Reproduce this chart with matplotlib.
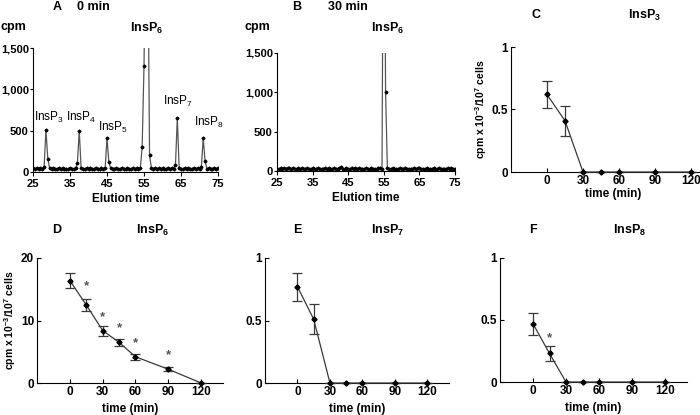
import matplotlib
matplotlib.use("Agg")
import matplotlib.pyplot as plt

plt.rcParams["font.family"] = ["Liberation Sans", "DejaVu Sans"]
plt.rcParams["font.weight"] = "bold"
plt.rcParams["mathtext.default"] = "regular"
plt.rcParams["axes.linewidth"] = 0.8

W, H = 700, 415

# elution profiles (fractions every 0.5 min)
elution_time = [
    25.0, 25.5, 26.0, 26.5, 27.0, 27.5, 28.0, 28.5, 29.0, 29.5,
    30.0, 30.5, 31.0, 31.5, 32.0, 32.5, 33.0, 33.5, 34.0, 34.5,
    35.0, 35.5, 36.0, 36.5, 37.0, 37.5, 38.0, 38.5, 39.0, 39.5,
    40.0, 40.5, 41.0, 41.5, 42.0, 42.5, 43.0, 43.5, 44.0, 44.5,
    45.0, 45.5, 46.0, 46.5, 47.0, 47.5, 48.0, 48.5, 49.0, 49.5,
    50.0, 50.5, 51.0, 51.5, 52.0, 52.5, 53.0, 53.5, 54.0, 54.5,
    55.0, 55.5, 56.0, 56.5, 57.0, 57.5, 58.0, 58.5, 59.0, 59.5,
    60.0, 60.5, 61.0, 61.5, 62.0, 62.5, 63.0, 63.5, 64.0, 64.5,
    65.0, 65.5, 66.0, 66.5, 67.0, 67.5, 68.0, 68.5, 69.0, 69.5,
    70.0, 70.5, 71.0, 71.5, 72.0, 72.5, 73.0, 73.5, 74.0, 74.5,
    75.0,
]
cpm_0min = [
    45, 40, 50, 42, 45, 38, 60, 510, 160, 45,
    40, 48, 42, 38, 45, 40, 44, 38, 42, 40,
    45, 38, 42, 45, 110, 500, 50, 42, 38, 44,
    40, 46, 38, 42, 45, 40, 38, 44, 42, 45,
    410, 120, 45, 40, 38, 46, 42, 40, 44, 38,
    42, 45, 40, 38, 44, 42, 46, 40, 45, 300,
    1280, 3000, 3000, 200, 50, 42, 45, 38, 44, 40,
    46, 42, 38, 45, 40, 44, 42, 80, 650, 50,
    42, 38, 45, 40, 44, 38, 42, 46, 40, 44,
    38, 60, 410, 130, 40, 44, 38, 42, 45, 40,
    44,
]
cpm_30min = [
    30, 25, 34, 28, 36, 30, 44, 32, 26, 35,
    30, 28, 36, 27, 32, 30, 26, 34, 30, 28,
    33, 27, 31, 35, 28, 30, 26, 33, 29, 36,
    30, 28, 34, 26, 31, 38, 46, 30, 27, 34,
    30, 28, 35, 26, 32, 30, 34, 28, 31, 27,
    33, 29, 30, 36, 28, 30, 26, 34, 35, 30,
    5000, 1010, 40, 30, 27, 34, 28, 31, 26, 33,
    30, 28, 35, 27, 31, 30, 26, 34, 29, 32,
    36, 28, 30, 27, 33, 29, 31, 26, 34, 30,
    28, 35, 27, 31, 30, 26, 33, 29, 32, 28,
    30,
]

# time courses (cpm x 10^-3 / 10^7 cells)
time_min = [0, 15, 30, 45, 60, 90, 120]
insp3 = [0.62, 0.41, 0, 0, 0, 0, 0]
insp3_err = [0.11, 0.12, 0, 0, 0, 0, 0]
insp6 = [16.4, 12.5, 8.4, 6.5, 4.2, 2.2, 0]
insp6_err = [1.2, 0.95, 0.8, 0.55, 0.45, 0.3, 0]
insp7 = [0.77, 0.51, 0, 0, 0, 0, 0]
insp7_err = [0.11, 0.12, 0, 0, 0, 0, 0]
insp8 = [0.47, 0.23, 0, 0, 0, 0, 0]
insp8_err = [0.09, 0.06, 0, 0, 0, 0, 0]

insp6_star_t = [15, 30, 45, 60, 90]
insp6_star_y = [15.5, 10.6, 8.8, 6.4, 4.4]
insp8_star_t = [15]
insp8_star_y = [0.355]


def add_axes(fig, left, right, top, bottom):
    """Axes from pixel edges (top-left origin)."""
    return fig.add_axes([left / W, (H - bottom) / H, (right - left) / W, (bottom - top) / H])


def label(fig, x, y, s, size=9, weight="bold", ha="center"):
    fig.text(x / W, 1 - y / H, s, fontsize=size, fontweight=weight, ha=ha, va="center")


def style(ax, size=8.5):
    for side in ("top", "right"):
        ax.spines[side].set_visible(False)
    ax.tick_params(labelsize=size, width=0.8, length=3, pad=2)


fig = plt.figure(figsize=(W / 100, H / 100), dpi=100)

# --- chromatograms
yticks_cpm = [0, 500, 1000, 1500]
yticklabels_cpm = ["0", "500", "1,000", "1,500"]
xticks_el = [25, 35, 45, 55, 65, 75]

for box, series in (((33, 218, 48, 172), cpm_0min), ((277, 455, 53, 171), cpm_30min)):
    ax = add_axes(fig, *box)
    style(ax, 8)
    ax.tick_params(axis="y", length=2, pad=1)
    ax.plot(elution_time, series, color="#555555", lw=0.9, marker="D", ms=1.5,
            mfc="black", mec="black", clip_on=True)
    ax.set_xlim(25, 75)
    ax.set_ylim(0, 1500)
    ax.set_xticks(xticks_el)
    ax.set_yticks(yticks_cpm)
    ax.set_yticklabels(yticklabels_cpm)
    ax.set_xlabel("Elution time", fontsize=8.5, fontweight="bold", labelpad=3)

label(fig, 57, 7, "A")
label(fig, 93, 7, "0 min")
label(fig, 13, 27, "cpm")
label(fig, 147, 28, "InsP$_6$")
label(fig, 49, 117, "InsP$_3$", size=8.5, weight="normal")
label(fig, 81, 117, "InsP$_4$", size=8.5, weight="normal")
label(fig, 113, 127, "InsP$_5$", size=8.5, weight="normal")
label(fig, 178, 101, "InsP$_7$", size=8.5, weight="normal")
label(fig, 209, 122, "InsP$_8$", size=8.5, weight="normal")

label(fig, 297, 7, "B")
label(fig, 348, 7, "30 min")
label(fig, 257, 27, "cpm")
label(fig, 388, 28, "InsP$_6$")

# --- time courses
ylabel = "cpm x 10$^{-3}$/10$^{7}$ cells"
panels = [
    ((511, 715, 47, 172), insp3, insp3_err, 1, [0, 0.5, 1], ["0", "0.5", "1"], True, None, 1),
    ((37, 223, 258, 383), insp6, insp6_err, 20, [0, 10, 20], ["0", "10", "20"], True,
     (insp6_star_t, insp6_star_y), 4),
    ((265, 449, 258, 383), insp7, insp7_err, 1, [0, 0.5, 1], ["0", "0.5", "1"], False, None, 4),
    ((500, 687, 258, 382), insp8, insp8_err, 1, [0, 0.5, 1], ["0", "0.5", "1"], False,
     (insp8_star_t, insp8_star_y), 4),
]
for box, vals, errs, ytop, yt, ytl, show_ylabel, stars, xpad in panels:
    ax = add_axes(fig, *box)
    style(ax)
    ax.tick_params(direction="in")
    ax.errorbar(time_min, vals, yerr=errs, color="#3a3a3a", lw=0.9, elinewidth=0.9,
                capsize=3.5, capthick=0.9, marker="D", ms=2.6, mfc="black", mec="black",
                clip_on=False, zorder=3)
    ax.set_xlim(-30, 140)
    ax.set_ylim(0, ytop)
    ax.set_xticks([0, 30, 60, 90, 120])
    ax.set_yticks(yt)
    ax.set_yticklabels(ytl)
    ax.set_xlabel("time (min)", fontsize=8.5, fontweight="bold", labelpad=xpad)
    if show_ylabel:
        ax.set_ylabel(ylabel, fontsize=7.5, fontweight="bold", labelpad=2)
    if stars is not None:
        for t, y in zip(*stars):
            ax.text(t, y, "*", color="#555555", fontsize=9.5, ha="center", va="center")

label(fig, 536, 15, "C")
label(fig, 645, 15, "InsP$_3$")
label(fig, 57, 230, "D")
label(fig, 153, 230, "InsP$_6$")
label(fig, 297, 230, "E")
label(fig, 388, 230, "InsP$_7$")
label(fig, 533, 230, "F")
label(fig, 630, 230, "InsP$_8$")

fig.savefig("out.png", dpi=100)
